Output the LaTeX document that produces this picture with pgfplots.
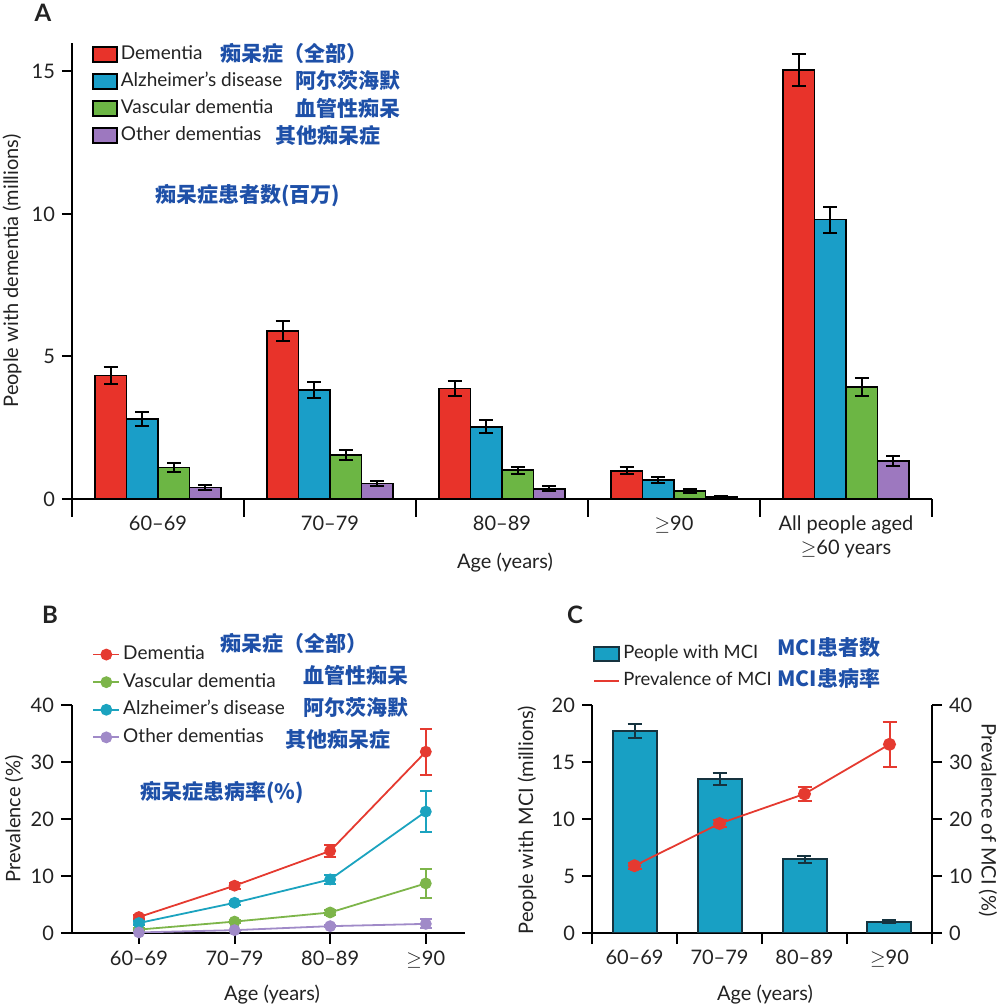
\documentclass[border=0pt]{standalone}
\usepackage{fontspec}
\setmainfont{Lato}
\newfontfamily\cjk{Noto Sans CJK SC}
\usepackage{pgfplots}
\usepackage{pgfplotstable}
\pgfplotsset{compat=1.18}
\definecolor{cRed}{HTML}{E8332A}
\definecolor{cBlue}{HTML}{1A9EC8}
\definecolor{cGreen}{HTML}{6CB644}
\definecolor{cPurple}{HTML}{9D78BF}
\definecolor{lRed}{HTML}{E53A30}
\definecolor{lGreen}{HTML}{7DB54A}
\definecolor{lTeal}{HTML}{1BA3BF}
\definecolor{lPurple}{HTML}{A08AC8}
\definecolor{cText}{HTML}{1E50A8}
\definecolor{cMCI}{HTML}{18A0C4}
\definecolor{cMCIedge}{HTML}{16333F}
\definecolor{txt}{HTML}{222222}
\newcommand{\pxc}[2]{({(#1)*0.5pt},{(1007-(#2))*0.5pt})}

% Panel A (millions): x y err
\pgfplotstableread{
x y e
0 4.33 0.30
1 5.90 0.35
2 3.88 0.27
3 0.99 0.12
4 15.05 0.55
}\tDemA
\pgfplotstableread{
x y e
0 2.81 0.25
1 3.83 0.29
2 2.53 0.23
3 0.67 0.10
4 9.80 0.45
}\tAlzA
\pgfplotstableread{
x y e
0 1.11 0.17
1 1.55 0.17
2 1.01 0.13
3 0.29 0.07
4 3.93 0.30
}\tVasA
\pgfplotstableread{
x y e
0 0.41 0.08
1 0.54 0.10
2 0.36 0.08
3 0.06 0.03
4 1.33 0.17
}\tOthA
% Panel B (%)
\pgfplotstableread{
x y e
0 2.8 0.4
1 8.3 0.5
2 14.4 1.0
3 31.8 4.0
}\tDemB
\pgfplotstableread{
x y e
0 0.6 0.2
1 2.0 0.3
2 3.6 0.4
3 8.7 2.5
}\tVasB
\pgfplotstableread{
x y e
0 1.75 0.3
1 5.3 0.4
2 9.4 0.8
3 21.3 3.6
}\tAlzB
\pgfplotstableread{
x y e
0 0.1 0.1
1 0.5 0.1
2 1.2 0.2
3 1.6 0.8
}\tOthB
% Panel C
\pgfplotstableread{
x y e
0 17.7 0.6
1 13.5 0.5
2 6.45 0.3
3 1.0 0.1
}\tMCIn
\pgfplotstableread{
x y e
0 11.8 0.5
1 19.2 0.6
2 24.4 1.2
3 33.1 4.0
}\tMCIp

\begin{document}
\begin{tikzpicture}
\path[use as bounding box] (0,0) rectangle (500pt,503.5pt);
\pgfplotsset{
  every axis/.append style={
    /pgf/number format/assume math mode=true,
    axis line style={line width=1pt,black},
    tick style={line width=1pt,black},
    major tick length=5pt, minor tick length=9pt,
    tick align=outside,
    scale only axis,
    tick label style={text=txt},
    legend cell align=left,
    error bars/y dir=both, error bars/y explicit,
  },
}
% ---------------- Panel A
\begin{axis}[at={(36pt,254pt)}, anchor=south west, width=430pt, height=228pt,
  xmin=-0.5, xmax=4.5, ymin=0, ymax=16,
  axis x line*=bottom, axis y line*=left,
  ytick={0,5,10,15},
  xtick={0,...,4},
  xticklabels={60–69,70–79,80–89,$\geq$90,{All people aged\\$\geq$60 years}},
  xticklabel style={align=center},
  minor xtick={-0.5,0.5,...,4.5},
  every major x tick/.append style={draw opacity=0},
  ybar=0pt, bar width=15.8pt,
  error bars/error bar style={line width=1pt,black},
  error bars/error mark options={rotate=90,mark size=3.5pt,line width=1pt,black},
  legend style={at={(0.0233,1.004)}, anchor=north west, draw=none, fill=none,
    inner sep=0pt, row sep=0.5pt, text=txt, font=\fontsize{9.5}{11}\selectfont,
    nodes={inner sep=1.5pt, text height=7.5pt, text depth=2.5pt, xshift=1.5pt}},
  legend image code/.code={\draw[#1,draw=black,line width=0.7pt] (0pt,-3.75pt) rectangle (12pt,3.75pt);},
]
\addplot[fill=cRed,draw=black,line width=0.8pt] table[x=x,y=y,y error=e]{\tDemA};
\addplot[fill=cBlue,draw=black,line width=0.8pt] table[x=x,y=y,y error=e]{\tAlzA};
\addplot[fill=cGreen,draw=black,line width=0.8pt] table[x=x,y=y,y error=e]{\tVasA};
\addplot[fill=cPurple,draw=black,line width=0.8pt] table[x=x,y=y,y error=e]{\tOthA};
\legend{Dementia, Alzheimer's disease, Vascular dementia, Other dementias}
\end{axis}

% ---------------- Panel B
\begin{axis}[at={(36pt,37pt)}, anchor=south west, width=196.5pt, height=114pt,
  xmin=-0.70, xmax=3.41, ymin=0, ymax=40,
  axis x line*=bottom, axis y line*=left,
  ytick={0,10,20,30,40},
  xtick={0,...,3}, xticklabels={60–69,70–79,80–89,$\geq$90},
  major tick length=5.5pt,
  error bars/error bar style={line width=1pt},
  error bars/error mark options={rotate=90,mark size=3pt,line width=1pt},
  legend style={at={(0.051,1.28)}, anchor=north west, draw=none, fill=none,
    inner sep=0pt, row sep=0.8pt, text=txt, font=\fontsize{9.5}{11}\selectfont,
    nodes={inner sep=1.5pt, text height=7.5pt, text depth=2.5pt, xshift=1pt}},
  legend image code/.code={\draw[mark repeat=2,mark phase=2,#1] plot coordinates {(0pt,0pt) (6.5pt,0pt) (13pt,0pt)};},
]
\addplot[color=lRed, line width=0.9pt, mark=*, mark size=2.5pt] table[x=x,y=y,y error=e]{\tDemB};
\addplot[color=lGreen, line width=0.9pt, mark=*, mark size=2.5pt] table[x=x,y=y,y error=e]{\tVasB};
\addplot[color=lTeal, line width=0.9pt, mark=*, mark size=2.5pt] table[x=x,y=y,y error=e]{\tAlzB};
\addplot[color=lPurple, line width=0.9pt, mark=*, mark size=2.5pt] table[x=x,y=y,y error=e]{\tOthB};
\legend{Dementia, Vascular dementia, Alzheimer's disease, Other dementias}
\end{axis}

% ---------------- Panel C (left)
\begin{axis}[at={(296pt,37pt)}, anchor=south west, width=170pt, height=114pt,
  xmin=-0.5, xmax=3.5, ymin=0, ymax=20,
  axis x line*=bottom, axis y line*=left,
  ytick={0,5,10,15,20},
  xtick={0,...,3}, xticklabels={60–69,70–79,80–89,$\geq$90},
  minor xtick={-0.5,0.5,...,3.5}, minor tick length=5.5pt,
  every major x tick/.append style={draw opacity=0},
  ybar=0pt, bar width=22pt,
  error bars/error bar style={line width=1pt,cMCIedge},
  error bars/error mark options={rotate=90,mark size=3.5pt,line width=1pt,cMCIedge},
  legend style={at={(0.003,1.283)}, anchor=north west, draw=none, fill=none,
    inner sep=0pt, row sep=0.5pt, text=txt, font=\fontsize{9.2}{11}\selectfont,
    nodes={inner sep=1.5pt, text height=7.5pt, text depth=2.5pt}},
  legend image code/.code={\draw[#1] (0pt,-3.5pt) rectangle (12.5pt,3.5pt);},
]
\addplot[fill=cMCI, draw=cMCIedge, line width=1pt] table[x=x,y=y,y error=e]{\tMCIn};
\addlegendentry{People with MCI}
\addlegendimage{legend image code/.code={\draw[lRed,line width=0.9pt] (0pt,0pt) -- (12.5pt,0pt);}}
\addlegendentry{Prevalence of MCI}
\end{axis}
% ---------------- Panel C (right)
\begin{axis}[at={(296pt,37pt)}, anchor=south west, width=170pt, height=114pt,
  xmin=-0.5, xmax=3.5, ymin=0, ymax=40,
  axis x line=none, axis y line*=right,
  ytick={0,10,20,30,40},
  error bars/error bar style={line width=1pt},
  error bars/error mark options={rotate=90,mark size=3.5pt,line width=1pt},
]
\addplot[color=lRed, line width=0.9pt, mark=*, mark size=2.8pt] table[x=x,y=y,y error=e]{\tMCIp};
\end{axis}

% ---------------- labels
\begin{scope}[every node/.style={text=txt}]
\node[font=\bfseries\fontsize{12}{14}\selectfont] at \pxc{43}{13} {A};
\node[font=\bfseries\fontsize{12}{14}\selectfont] at \pxc{50}{615} {B};
\node[font=\bfseries\fontsize{12}{14}\selectfont] at \pxc{575}{615} {C};
\node[rotate=90] at \pxc{12}{271} {People with dementia (millions)};
\node at \pxc{505}{563} {Age (years)};
\node[rotate=90] at \pxc{14}{819} {Prevalence (\%)};
\node at \pxc{272}{995} {Age (years)};
\node[rotate=90] at \pxc{527}{820} {People with MCI (millions)};
\node[rotate=-90] at \pxc{988}{820} {Prevalence of MCI (\%)};
\node at \pxc{765}{995} {Age (years)};
\end{scope}
\begin{scope}[every node/.style={anchor=west, inner sep=0pt, text=cText, font=\cjk\bfseries\fontsize{10.5}{12}\selectfont}]
\node at \pxc{220}{54} {痴呆症（全部）};
\node at \pxc{295}{81} {阿尔茨海默};
\node at \pxc{295}{108} {血管性痴呆};
\node at \pxc{275}{135} {其他痴呆症};
\node at \pxc{155}{196} {痴呆症患者数(百万)};
\node at \pxc{220}{644} {痴呆症（全部）};
\node at \pxc{303}{675} {血管性痴呆};
\node at \pxc{303}{708} {阿尔茨海默};
\node at \pxc{285}{739} {其他痴呆症};
\node at \pxc{140}{793} {痴呆症患病率(\%)};
\node at \pxc{777}{648} {MCI患者数};
\node at \pxc{777}{678} {MCI患病率};
\end{scope}
\end{tikzpicture}
\end{document}
